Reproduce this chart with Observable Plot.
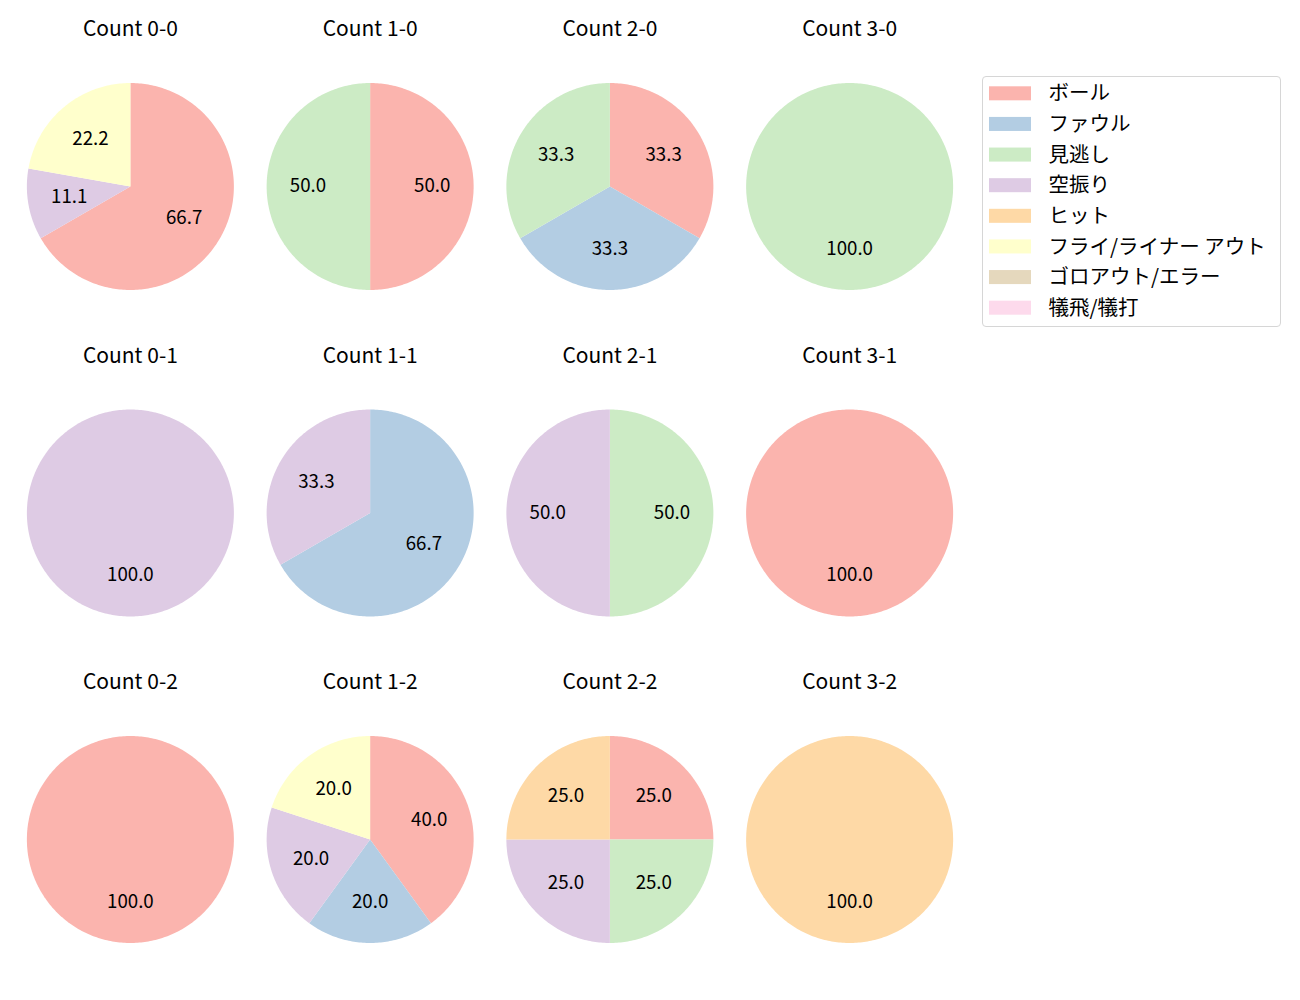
<!DOCTYPE html>
<html>
<head>
<meta charset="utf-8">
<script src="https://cdn.jsdelivr.net/npm/d3@7"></script>
<script src="https://cdn.jsdelivr.net/npm/@observablehq/plot@0.6"></script>
<style>
  html, body { margin: 0; padding: 0; background: #fff; }
  #wrap { position: relative; width: 1300px; height: 1000px; font-family: "Noto Sans CJK JP", sans-serif; }
  #legend { position: absolute; left: 982px; top: 76px; width: 297px; height: 249px;
            border: 1px solid #d6d6d6; border-radius: 4px; background: #fff; }
  svg { display: block; overflow: visible; }
</style>
</head>
<body>
<div id="wrap"><div id="chart"></div><div id="legend"></div></div>
<script>
// ---- data ----
const categories = ["ボール", "ファウル", "見逃し", "空振り", "ヒット", "フライ/ライナー アウト", "ゴロアウト/エラー", "犠飛/犠打"];
const colors = ["#fbb4ae", "#b3cde3", "#ccebc5", "#decbe4", "#fed9a6", "#ffffcc", "#e5d8bd", "#fddaec"];
const countBalls   = [0, 1, 2, 3, 0, 1, 2, 3, 0, 1, 2, 3];
const countStrikes = [0, 0, 0, 0, 1, 1, 1, 1, 2, 2, 2, 2];
// pitches per category (same order as categories) for each count
const countValues = [
  [6, 0, 0, 1, 0, 2, 0, 0], // 0-0
  [1, 0, 1, 0, 0, 0, 0, 0], // 1-0
  [1, 1, 1, 0, 0, 0, 0, 0], // 2-0
  [0, 0, 1, 0, 0, 0, 0, 0], // 3-0
  [0, 0, 0, 1, 0, 0, 0, 0], // 0-1
  [0, 2, 0, 1, 0, 0, 0, 0], // 1-1
  [0, 0, 1, 1, 0, 0, 0, 0], // 2-1
  [1, 0, 0, 0, 0, 0, 0, 0], // 3-1
  [1, 0, 0, 0, 0, 0, 0, 0], // 0-2
  [2, 1, 0, 1, 0, 1, 0, 0], // 1-2
  [1, 0, 1, 1, 1, 0, 0, 0], // 2-2
  [0, 0, 0, 0, 1, 0, 0, 0]  // 3-2
];

// ---- build wedge polygons & labels (pie: start at top, clockwise) ----
const wedgePts = [], labels = [], titles = [];
const pie = d3.pie().sort(null).value(d => d.v);
countValues.forEach((vals, k) => {
  const fx = countBalls[k], fy = countStrikes[k];
  titles.push({fx, fy, text: `Count ${fx}-${fy}`});
  const total = d3.sum(vals);
  const arcs = pie(vals.map((v, i) => ({v, cat: categories[i]})));
  arcs.forEach((a, i) => {
    if (a.data.v <= 0) return;
    const id = `${k}-${i}`;
    const full = a.endAngle - a.startAngle > 2 * Math.PI - 1e-6;
    if (!full) wedgePts.push({fx, fy, id, cat: a.data.cat, x: 0, y: 0});
    const n = Math.max(2, Math.ceil((a.endAngle - a.startAngle) / (Math.PI / 180)));
    for (let j = 0; j <= n; j++) {
      const t = a.startAngle + (a.endAngle - a.startAngle) * j / n;
      wedgePts.push({fx, fy, id, cat: a.data.cat, x: Math.sin(t), y: Math.cos(t)});
    }
    const m = (a.startAngle + a.endAngle) / 2;
    labels.push({fx, fy, x: 0.6 * Math.sin(m), y: 0.6 * Math.cos(m), text: (100 * a.data.v / total).toFixed(1)});
  });
});

const FONT = "Noto Sans CJK JP, sans-serif";

const chart = Plot.plot({
  width: 1300,
  height: 1000,
  marginLeft: 10,
  marginRight: 331,
  marginTop: 10,
  marginBottom: 10.5,
  style: {fontFamily: FONT, background: "transparent"},
  fx: {domain: [0, 1, 2, 3], padding: 0, round: false, axis: null},
  fy: {domain: [0, 1, 2], padding: 0, round: false, axis: null},
  x: {domain: [-1.1582, 1.1582], axis: null},
  y: {domain: [-1.4541, 1.7005], axis: null},
  color: {domain: categories, range: colors},
  marks: [
    Plot.line(wedgePts, {x: "x", y: "y", z: "id", fx: "fx", fy: "fy", fill: "cat", stroke: "none"}),
    Plot.text(labels, {x: "x", y: "y", fx: "fx", fy: "fy", text: "text", fontSize: 18.7, fill: "black"}),
    Plot.text(titles, {fx: "fx", fy: "fy", text: "text", frameAnchor: "top", dy: 19, lineAnchor: "middle", fontSize: 21, fill: "black"})
  ]
});
document.getElementById("chart").appendChild(chart);

const legend = Plot.plot({
  width: 297,
  height: 249,
  marginTop: 1,
  marginBottom: 3,
  marginLeft: 0,
  marginRight: 0,
  style: {fontFamily: FONT, background: "transparent", overflow: "visible"},
  x: {domain: [0, 1], range: [6, 48], axis: null},
  y: {domain: categories, padding: 0, round: false, axis: null},
  color: {domain: categories, range: colors},
  marks: [
    Plot.barX(categories, {x1: 0, x2: 1, y: d => d, fill: d => d, insetTop: 8.3, insetBottom: 8.3}),
    Plot.text(categories, {x: 1, y: d => d, text: d => d, dx: 17, textAnchor: "start", fontSize: 20.5, fill: "black"})
  ]
});
document.getElementById("legend").appendChild(legend);
</script>
</body>
</html>
